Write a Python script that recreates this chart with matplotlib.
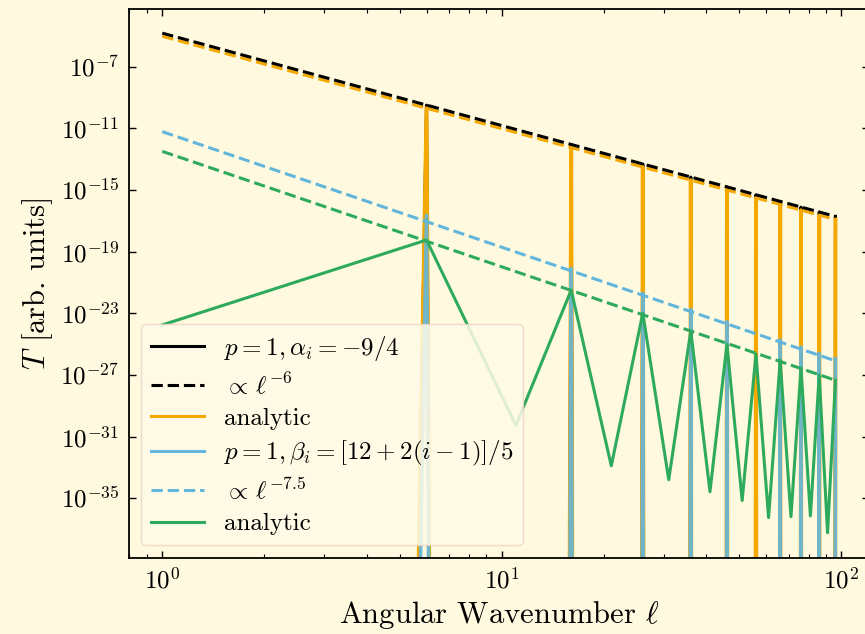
import numpy as np
import matplotlib.pyplot as plt
from matplotlib.lines import Line2D

plt.rcParams['mathtext.fontset'] = 'cm'
plt.rcParams['font.family'] = 'serif'
plt.rcParams['font.serif'] = ['cmr10', 'DejaVu Serif']
plt.rcParams['axes.formatter.use_mathtext'] = True
plt.rcParams['axes.unicode_minus'] = True

# angular wavenumbers sampled every 5
ell = [1, 6, 11, 16, 21, 26, 31, 36, 41, 46, 51, 56, 61, 66, 71, 76, 81, 86, 91, 96]

# log10 of T (None = exactly zero, drops off the log axis)
alpha_num = [None, -9.50, None, -12.05, None, -13.32, None, -14.17, None, -14.81,
             None, -15.32, None, -15.75, None, -16.12, None, -16.44, None, -16.72]
alpha_ana = [None, -9.70, None, -12.25, None, -13.52, None, -14.37, None, -15.01,
             None, -15.52, None, -15.95, None, -16.32, None, -16.64, None, -16.92]
beta_num = [None, -16.65, None, -20.10, None, -21.70, None, -22.75, None, -23.55,
            None, None, None, -24.73, None, -25.20, None, -25.60, None, -25.95]
beta_ana = [-23.76, -18.25, -30.28, -21.50, -32.90, -23.00, -33.80, -24.15, -34.58, -25.02,
            -35.15, -25.65, -36.26, -26.05, -36.20, -26.55, -36.15, -27.00, -37.24, -27.35]

# power-law guide lines: end points (log10 T at ell = 1 and ell = 96)
guide_ell = [1, 96]
guide_alpha = [-4.83, -16.72]
guide_alpha_ana = [-5.03, -16.92]
guide_beta = [-11.22, -26.09]
guide_beta_ana = [-12.50, -27.35]

bg = '#fef9df'
c_orange = '#f5a800'
c_blue = '#62b6dc'
c_green = '#2eaa5c'


def to_T(logs):
    return np.array([0.0 if v is None else 10.0**v for v in logs])


fig = plt.figure(figsize=(8.65, 6.34), dpi=100, facecolor=bg)
ax = fig.add_axes([0.1491, 0.1199, 0.8555, 0.8655], facecolor=bg)
ax.set_xscale('log')
ax.set_yscale('log')

lw = 2.2
ax.plot(ell, to_T(alpha_num), color='black', lw=lw)
ax.plot(ell, to_T(alpha_ana), color=c_orange, lw=lw + 0.6)
ax.plot(guide_ell, to_T(guide_alpha_ana), color=c_orange, lw=lw, ls='--')
ax.plot(guide_ell, to_T(guide_alpha), color='black', lw=lw, ls='--')
ax.plot(ell, to_T(beta_num), color=c_blue, lw=lw + 0.4, alpha=0.9)
ax.plot(guide_ell, to_T(guide_beta), color=c_blue, lw=lw, ls='--')
ax.plot(ell, to_T(beta_ana), color=c_green, lw=lw)
ax.plot(guide_ell, to_T(guide_beta_ana), color=c_green, lw=lw, ls='--')

ax.set_xlim(0.798, 120.5)
ax.set_ylim(10.0**-38.88, 10.0**-3.28)
ax.set_yticks([10.0**k for k in range(-35, -6, 4)])
ax.yaxis.set_minor_locator(plt.NullLocator())

ax.tick_params(which='both', direction='in', top=True, right=True, labelsize=18, pad=7)
ax.tick_params(which='major', length=5, width=1)
ax.tick_params(which='minor', length=3, width=0.8)
for sp in ax.spines.values():
    sp.set_linewidth(1.3)

ax.set_xlabel(r'Angular Wavenumber $\ell$', fontsize=22)
ax.set_ylabel(r'$T$ [arb. units]', fontsize=22)

handles = [
    Line2D([], [], color='black', lw=lw),
    Line2D([], [], color='black', lw=lw, ls='--'),
    Line2D([], [], color=c_orange, lw=lw),
    Line2D([], [], color=c_blue, lw=lw),
    Line2D([], [], color=c_blue, lw=lw, ls='--'),
    Line2D([], [], color=c_green, lw=lw),
]
labels = [
    r'$p=1, \alpha_i=-9/4$',
    r'${\propto}\,\ell^{-6}$',
    'analytic',
    r'$p=1, \beta_i=[12+2(i-1)]/5$',
    r'${\propto}\,\ell^{-7.5}$',
    'analytic',
]
leg = ax.legend(handles, labels, loc='lower left', fontsize=18, handlelength=2.1,
                labelspacing=0.36, facecolor='#fffbe8', edgecolor='#eed5c6',
                framealpha=0.85)

fig.savefig('out.png', dpi=100, facecolor=bg)
